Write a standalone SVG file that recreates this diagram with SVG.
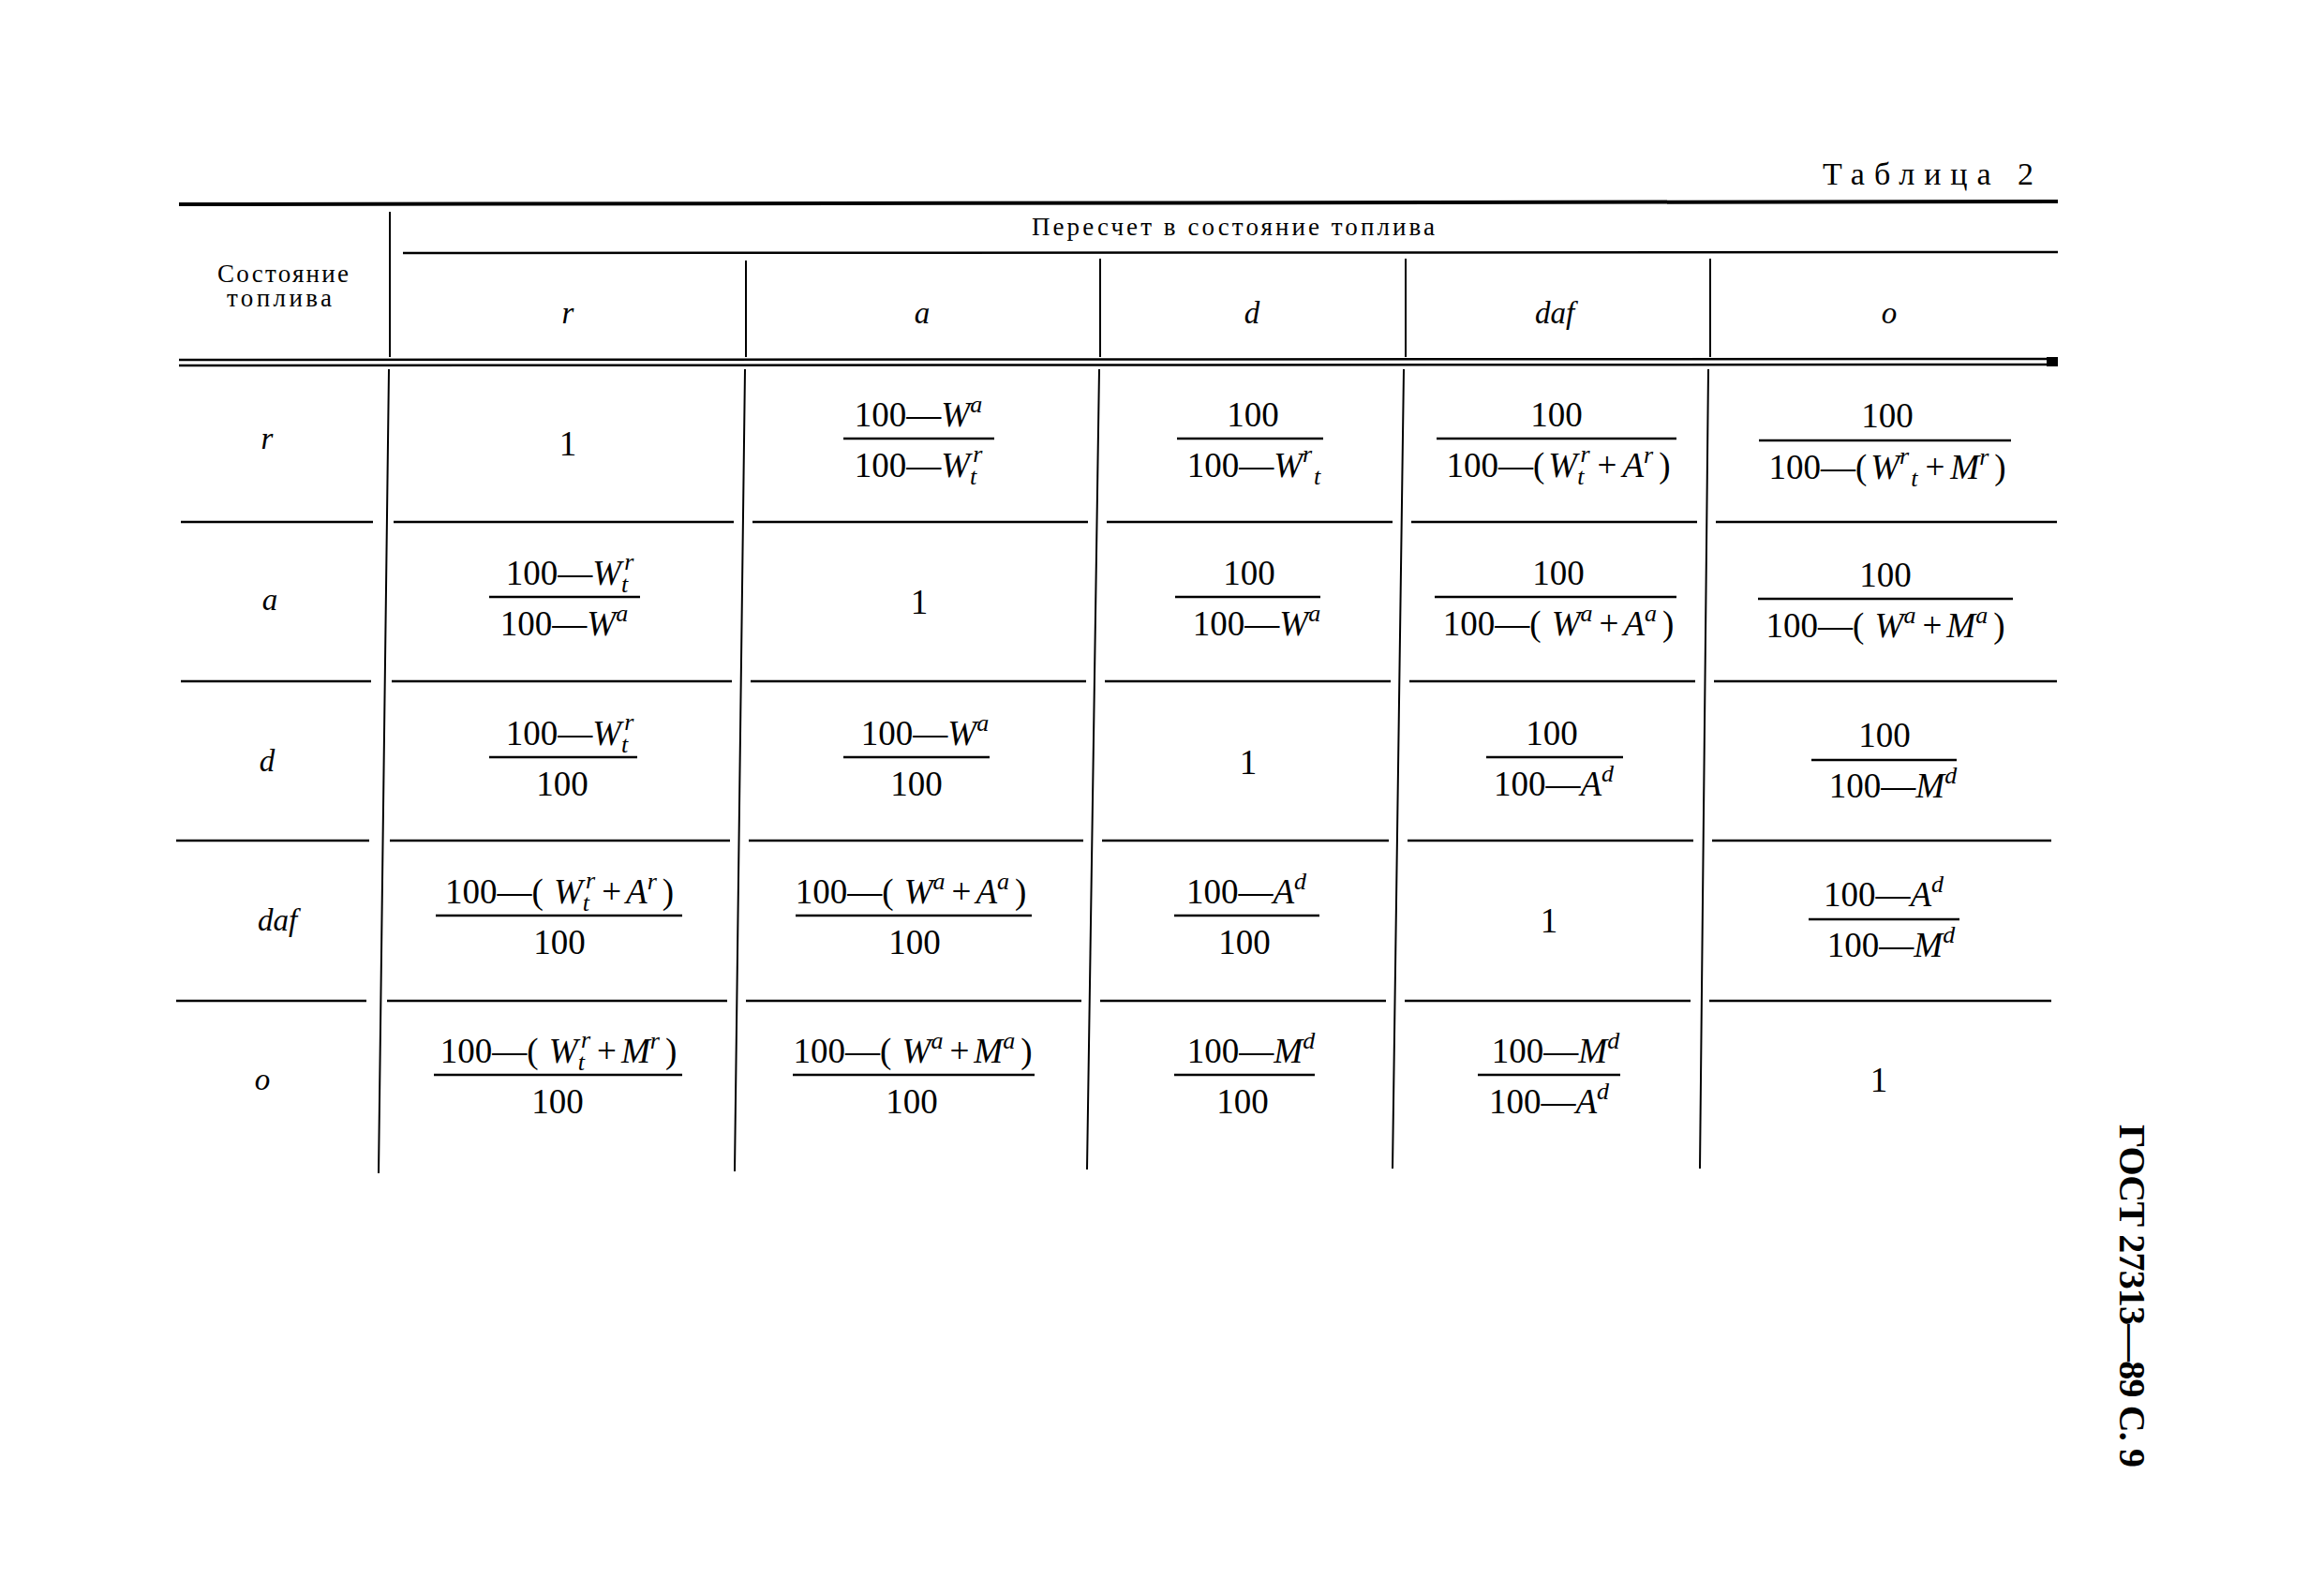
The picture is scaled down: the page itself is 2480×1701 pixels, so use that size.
<svg xmlns="http://www.w3.org/2000/svg" width="2480" height="1701" viewBox="0 0 2480 1701">
<style>
.ln{stroke:#000;stroke-width:2.5;fill:none;stroke-linecap:butt}
.th{stroke-width:4}
.vl{stroke-width:2}
.t{font-family:"Liberation Serif","Times New Roman",serif;fill:#000}
.f{font-size:37px;text-anchor:middle}
.i{font-style:italic}
.s{font-size:26px;font-style:italic}
.lab{font-size:33px;font-style:italic;text-anchor:middle}
.hd{font-size:27px}
</style>
<rect width="2480" height="1701" fill="#fff"/>

<g id="title" class="t">
  <text x="1945" y="197" font-size="34" textLength="225">Таблица 2</text>
</g>
<g id="side-note" class="t">
  <text transform="translate(2262,1200) rotate(90)" font-size="40" font-weight="bold" textLength="366">ГОСТ 27313—89 С. 9</text>
</g>

<g id="connectors">
  <path class="ln th" d="M191 218 L2196 215"/>
  <path class="ln" d="M430 270 L2196 269"/>
  <path class="ln" d="M191 384 L2196 383"/>
  <path class="ln" d="M191 390 L2196 389"/>
  <rect x="2184" y="381" width="12" height="10" fill="#000"/>
  <path class="ln vl" d="M416 226 L416 381 M796 278 L796 381 M1174 276 L1174 381 M1500 276 L1500 381 M1825 276 L1825 381"/>
  <path class="ln vl" d="M415 394 L404 1252 M795 394 L784 1250 M1173 394 L1160 1248 M1498 394 L1486 1247 M1823 394 L1814 1247"/>
  <path class="ln" d="M193 557 H398 M420 557 H783 M803 557 H1161 M1181 557 H1486 M1506 557 H1811 M1831 557 H2195"/>
  <path class="ln" d="M193 727 H396 M418 727 H781 M801 727 H1159 M1179 727 H1484 M1504 727 H1809 M1829 727 H2195"/>
  <path class="ln" d="M188 897 H394 M416 897 H779 M799 897 H1156 M1176 897 H1482 M1502 897 H1807 M1827 897 H2189"/>
  <path class="ln" d="M188 1068 H391 M413 1068 H776 M796 1068 H1154 M1174 1068 H1479 M1499 1068 H1804 M1824 1068 H2189"/>
</g>

<g id="header" class="t">
  <text class="hd" x="302" y="301" text-anchor="middle" textLength="140">Состояние</text>
  <text class="hd" x="298" y="327" text-anchor="middle" textLength="112">топлива</text>
  <text class="hd" x="1316" y="251" text-anchor="middle" textLength="430">Пересчет в состояние топлива</text>
  <text class="lab" x="606" y="345" font-size="30">r</text>
  <text class="lab" x="984" y="345" font-size="30">a</text>
  <text class="lab" x="1336" y="345" font-size="30">d</text>
  <text class="lab" x="1659" y="345" font-size="30">daf</text>
  <text class="lab" x="2016" y="345" font-size="30">o</text>
</g>

<g id="row-labels" class="t">
  <text class="lab" x="285" y="479">r</text>
  <text class="lab" x="288" y="651">a</text>
  <text class="lab" x="285" y="823">d</text>
  <text class="lab" x="296" y="993">daf</text>
  <text class="lab" x="280" y="1163">o</text>
</g>

<!-- Row r -->
<g id="cell-r-r" class="t"><text class="f" x="606" y="486">1</text></g>
<g id="cell-r-a" class="t">
  <text class="f" x="980" y="455">100—<tspan class="i">W</tspan><tspan class="s" dy="-15">a</tspan></text>
  <path class="ln" d="M900 468 H1061"/>
  <text class="f" x="980" y="509">100—<tspan class="i">W</tspan><tspan class="s" dy="8">t</tspan><tspan class="s" dx="-4" dy="-24">r</tspan></text>
</g>
<g id="cell-r-d" class="t">
  <text class="f" x="1337" y="455">100</text>
  <path class="ln" d="M1256 468 H1412"/>
  <text class="f" x="1338" y="509">100—<tspan class="i">W</tspan><tspan class="s" dy="-16">r</tspan><tspan class="s" dx="2" dy="24">t</tspan></text>
</g>
<g id="cell-r-daf" class="t">
  <text class="f" x="1661" y="455">100</text>
  <path class="ln" d="M1533 468 H1789"/>
  <text class="f" x="1663" y="509">100—(<tspan class="i" dx="4">W</tspan><tspan class="s" dy="8">t</tspan><tspan class="s" dx="-4" dy="-24">r</tspan><tspan dx="8" dy="16">+</tspan><tspan class="i" dx="6">A</tspan><tspan class="s" dy="-15">r</tspan><tspan dx="6" dy="15">)</tspan></text>
</g>
<g id="cell-r-o" class="t">
  <text class="f" x="2014" y="456">100</text>
  <path class="ln" d="M1877 470 H2146"/>
  <text class="f" x="2014" y="511">100—(<tspan class="i" dx="4">W</tspan><tspan class="s" dy="-16">r</tspan><tspan class="s" dx="2" dy="24">t</tspan><tspan dx="8" dy="-8">+</tspan><tspan class="i" dx="6">M</tspan><tspan class="s" dy="-15">r</tspan><tspan dx="6" dy="15">)</tspan></text>
</g>

<!-- Row a -->
<g id="cell-a-r" class="t">
  <text class="f" x="608" y="624">100—<tspan class="i">W</tspan><tspan class="s" dy="8">t</tspan><tspan class="s" dx="-4" dy="-24">r</tspan></text>
  <path class="ln" d="M522 637 H683"/>
  <text class="f" x="602" y="678">100—<tspan class="i">W</tspan><tspan class="s" dy="-15">a</tspan></text>
</g>
<g id="cell-a-a" class="t"><text class="f" x="981" y="655">1</text></g>
<g id="cell-a-d" class="t">
  <text class="f" x="1333" y="624">100</text>
  <path class="ln" d="M1254 637 H1409"/>
  <text class="f" x="1341" y="678">100—<tspan class="i">W</tspan><tspan class="s" dy="-15">a</tspan></text>
</g>
<g id="cell-a-daf" class="t">
  <text class="f" x="1663" y="624">100</text>
  <path class="ln" d="M1531 637 H1789"/>
  <text class="f" x="1663" y="678">100—( <tspan class="i" dx="2">W</tspan><tspan class="s" dy="-15">a</tspan><tspan dx="7" dy="15">+</tspan><tspan class="i" dx="5">A</tspan><tspan class="s" dy="-15">a</tspan><tspan dx="6" dy="15">)</tspan></text>
</g>
<g id="cell-a-o" class="t">
  <text class="f" x="2012" y="626">100</text>
  <path class="ln" d="M1876 639 H2148"/>
  <text class="f" x="2012" y="680">100—( <tspan class="i" dx="2">W</tspan><tspan class="s" dy="-15">a</tspan><tspan dx="7" dy="15">+</tspan><tspan class="i" dx="5">M</tspan><tspan class="s" dy="-15">a</tspan><tspan dx="6" dy="15">)</tspan></text>
</g>

<!-- Row d -->
<g id="cell-d-r" class="t">
  <text class="f" x="608" y="795">100—<tspan class="i">W</tspan><tspan class="s" dy="8">t</tspan><tspan class="s" dx="-4" dy="-24">r</tspan></text>
  <path class="ln" d="M522 808 H680"/>
  <text class="f" x="600" y="849">100</text>
</g>
<g id="cell-d-a" class="t">
  <text class="f" x="987" y="795">100—<tspan class="i">W</tspan><tspan class="s" dy="-15">a</tspan></text>
  <path class="ln" d="M900 808 H1056"/>
  <text class="f" x="978" y="849">100</text>
</g>
<g id="cell-d-d" class="t"><text class="f" x="1332" y="826">1</text></g>
<g id="cell-d-daf" class="t">
  <text class="f" x="1656" y="795">100</text>
  <path class="ln" d="M1586 808 H1732"/>
  <text class="f" x="1658" y="849">100—<tspan class="i">A</tspan><tspan class="s" dy="-15">d</tspan></text>
</g>
<g id="cell-d-o" class="t">
  <text class="f" x="2011" y="797">100</text>
  <path class="ln" d="M1933 811 H2088"/>
  <text class="f" x="2020" y="851">100—<tspan class="i">M</tspan><tspan class="s" dy="-15">d</tspan></text>
</g>

<!-- Row daf -->
<g id="cell-daf-r" class="t">
  <text class="f" x="597" y="964">100—( <tspan class="i" dx="2">W</tspan><tspan class="s" dy="8">t</tspan><tspan class="s" dx="-4" dy="-24">r</tspan><tspan dx="7" dy="16">+</tspan><tspan class="i" dx="5">A</tspan><tspan class="s" dy="-15">r</tspan><tspan dx="6" dy="15">)</tspan></text>
  <path class="ln" d="M465 977 H728"/>
  <text class="f" x="597" y="1018">100</text>
</g>
<g id="cell-daf-a" class="t">
  <text class="f" x="972" y="964">100—( <tspan class="i" dx="2">W</tspan><tspan class="s" dy="-15">a</tspan><tspan dx="7" dy="15">+</tspan><tspan class="i" dx="5">A</tspan><tspan class="s" dy="-15">a</tspan><tspan dx="6" dy="15">)</tspan></text>
  <path class="ln" d="M849 977 H1101"/>
  <text class="f" x="976" y="1018">100</text>
</g>
<g id="cell-daf-d" class="t">
  <text class="f" x="1330" y="964">100—<tspan class="i">A</tspan><tspan class="s" dy="-15">d</tspan></text>
  <path class="ln" d="M1253 977 H1408"/>
  <text class="f" x="1328" y="1018">100</text>
</g>
<g id="cell-daf-daf" class="t"><text class="f" x="1653" y="995">1</text></g>
<g id="cell-daf-o" class="t">
  <text class="f" x="2010" y="967">100—<tspan class="i">A</tspan><tspan class="s" dy="-15">d</tspan></text>
  <path class="ln" d="M1930 981 H2091"/>
  <text class="f" x="2018" y="1021">100—<tspan class="i">M</tspan><tspan class="s" dy="-15">d</tspan></text>
</g>

<!-- Row o -->
<g id="cell-o-r" class="t">
  <text class="f" x="596" y="1134">100—( <tspan class="i" dx="2">W</tspan><tspan class="s" dy="8">t</tspan><tspan class="s" dx="-4" dy="-24">r</tspan><tspan dx="7" dy="16">+</tspan><tspan class="i" dx="5">M</tspan><tspan class="s" dy="-15">r</tspan><tspan dx="6" dy="15">)</tspan></text>
  <path class="ln" d="M463 1147 H728"/>
  <text class="f" x="595" y="1188">100</text>
</g>
<g id="cell-o-a" class="t">
  <text class="f" x="974" y="1134">100—( <tspan class="i" dx="2">W</tspan><tspan class="s" dy="-15">a</tspan><tspan dx="7" dy="15">+</tspan><tspan class="i" dx="5">M</tspan><tspan class="s" dy="-15">a</tspan><tspan dx="6" dy="15">)</tspan></text>
  <path class="ln" d="M846 1147 H1104"/>
  <text class="f" x="973" y="1188">100</text>
</g>
<g id="cell-o-d" class="t">
  <text class="f" x="1335" y="1134">100—<tspan class="i">M</tspan><tspan class="s" dy="-15">d</tspan></text>
  <path class="ln" d="M1253 1147 H1403"/>
  <text class="f" x="1326" y="1188">100</text>
</g>
<g id="cell-o-daf" class="t">
  <text class="f" x="1660" y="1134">100—<tspan class="i">M</tspan><tspan class="s" dy="-15">d</tspan></text>
  <path class="ln" d="M1577 1147 H1729"/>
  <text class="f" x="1653" y="1188">100—<tspan class="i">A</tspan><tspan class="s" dy="-15">d</tspan></text>
</g>
<g id="cell-o-o" class="t"><text class="f" x="2005" y="1165">1</text></g>
</svg>
